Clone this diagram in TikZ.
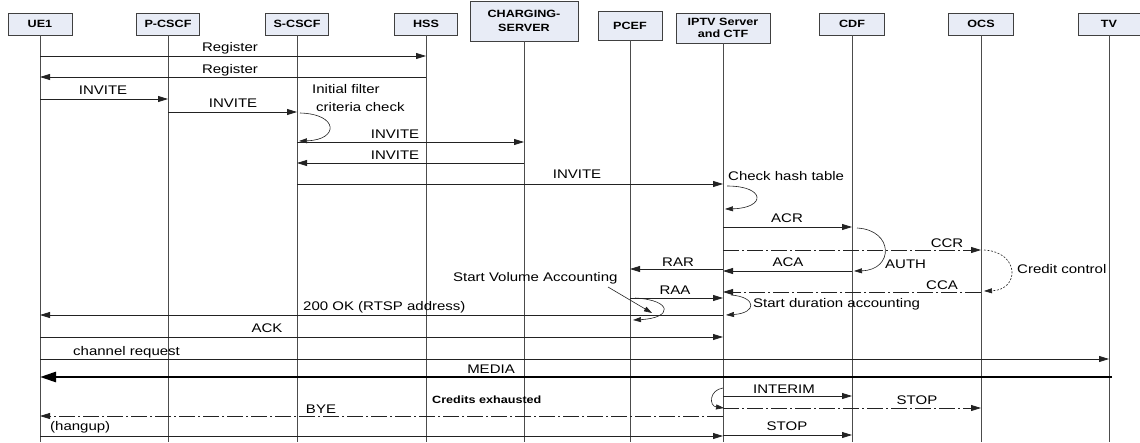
\documentclass[tikz,border=0pt]{standalone}
\usepackage{fontspec}
\setmainfont{Liberation Sans}[FakeStretch=1.2]
\usetikzlibrary{arrows.meta}
\definecolor{hdrfill}{HTML}{E8ECF6}
\definecolor{ln}{HTML}{222222}
\begin{document}
\begin{tikzpicture}[x=1pt,y=-1pt,
  hdr/.style={draw=black!75, line width=0.8pt, fill=hdrfill, font=\fontsize{10.5}{12}\selectfont\bfseries, align=center, inner sep=0pt, minimum height=22pt},
  life/.style={draw=black!70, line width=0.8pt},
  msg/.style={draw=ln, line width=0.8pt, -{Triangle[length=10pt,width=6pt]}},
  loopa/.style={draw=ln, line width=0.6pt, -{Triangle[length=8pt,width=5pt]}},
  dd/.style={dash pattern=on 16pt off 3pt on 2pt off 3pt},
  lbl/.style={font=\fontsize{12.5}{14}\selectfont, inner sep=0pt, anchor=base},
  lbll/.style={lbl, anchor=base west},
  blbl/.style={font=\fontsize{10.5}{12}\selectfont\bfseries, inner sep=0pt, anchor=base west}]
\useasboundingbox (0,0) rectangle (1140,442);
\fill[white] (0,0) rectangle (1140,442);
\coordinate (bot) at (0,442);
% headers
\node[hdr, minimum width=64pt] (ue1) at (40,24) {UE1};
\node[hdr, minimum width=63pt] (pcscf) at (168,24) {P-CSCF};
\node[hdr, minimum width=63pt] (scscf) at (297,24) {S-CSCF};
\node[hdr, minimum width=63pt] (hss) at (426,24) {HSS};
\node[hdr, minimum width=108pt, minimum height=40pt] (chg) at (524,21) {CHARGING-\\[2pt]SERVER};
\node[hdr, minimum width=64pt, minimum height=29pt] (pcef) at (630,25.5) {PCEF};
\node[hdr, minimum width=94pt, minimum height=30pt] (iptv) at (723,28) {IPTV Server\\and CTF};
\node[hdr, minimum width=65pt] (cdf) at (852,24) {CDF};
\node[hdr, minimum width=65pt] (ocs) at (981,24) {OCS};
\node[hdr, minimum width=62pt] (tv) at (1109,24) {TV};
% lifelines
\foreach \n in {ue1,pcscf,scscf,hss,chg,pcef,iptv,cdf,ocs,tv}
  \draw[life] (\n.south) -- (\n |- bot);
% messages
\draw[msg] (ue1 |- 0,56) -- (hss |- 0,56);
\node[lbl] (l1) at (230,51) {Register};
\draw[msg] (hss |- 0,77) -- (ue1 |- 0,77);
\node[lbl] (l2) at (230,73) {Register};
\draw[msg] (ue1 |- 0,99) -- (pcscf |- 0,99);
\node[lbl] (l3) at (103,94) {INVITE};
\draw[msg] (pcscf |- 0,112) -- (scscf |- 0,112);
\node[lbl] (l4) at (233,107) {INVITE};
\node[lbll] (ifc1) at (312,93) {Initial filter};
\node[lbll] (ifc2) at (316,111) {criteria check};
\draw[loopa] (300,113) .. controls (339,114) and (339,140) .. (299,141);
\draw[msg] (scscf |- 0,142) -- (chg |- 0,142);
\node[lbl] (l5) at (395,138.5) {INVITE};
\draw[msg] (chg |- 0,163) -- (scscf |- 0,163);
\node[lbl] (l6) at (395,159.5) {INVITE};
\draw[msg] (scscf |- 0,184) -- (iptv |- 0,184);
\node[lbl] (l7) at (577,178) {INVITE};
\node[lbll] (chk) at (728,180) {Check hash table};
\draw[loopa] (727,186) .. controls (766,186) and (766,208) .. (725,209);
\draw[msg] (iptv |- 0,227) -- (cdf |- 0,227);
\node[lbl] (l8) at (787,222.5) {ACR};
\draw[loopa] (857,228) .. controls (894,230) and (894,270) .. (854,271);
\node[lbll] (auth) at (885,268) {AUTH};
\draw[msg, dd] (iptv |- 0,250) -- (ocs |- 0,250);
\node[lbl] (l9) at (947,247.5) {CCR};
\draw[msg] (cdf |- 0,271) -- (iptv |- 0,271);
\node[lbl] (l10) at (788,266) {ACA};
\draw[msg] (iptv |- 0,269) -- (pcef |- 0,269);
\node[lbl] (l11) at (678,266) {RAR};
\draw[draw=ln, line width=0.6pt, dash pattern=on 2pt off 1.5pt, -{Triangle[length=8pt,width=5pt]}] (984,250) .. controls (1020,252) and (1020,290) .. (984,291);
\node[lbll] (cc) at (1017,273) {Credit control};
\draw[msg, dd] (ocs |- 0,292) -- (iptv |- 0,292);
\node[lbl] (l12) at (942,289.5) {CCA};
\node[lbll] (sva) at (453,281) {Start Volume Accounting};
\draw[draw=ln, line width=0.6pt, -{Triangle[length=8pt,width=5pt]}] (608,287) -- (652,313);
\draw[msg] (pcef |- 0,298) -- (iptv |- 0,298);
\node[lbl] (l13) at (675,294) {RAA};
\draw[loopa] (635,298) .. controls (673,300) and (673,318) .. (633,320);
\draw[loopa] (731,295) .. controls (757,297) and (757,313) .. (726,315);
\node[lbll] (sda) at (753,307) {Start duration accounting};
\draw[msg] (iptv |- 0,315) -- (ue1 |- 0,315);
\node[lbll] (l14) at (303,310) {200 OK (RTSP address)};
\draw[msg] (ue1 |- 0,337) -- (iptv |- 0,337);
\node[lbl] (l15) at (267,332) {ACK};
\draw[msg] (ue1 |- 0,359) -- (tv |- 0,359);
\node[lbll] (l16) at (73,355) {channel request};
\draw[draw=black, line width=2.6pt, -{Triangle[length=16pt,width=10pt]}] ([xshift=3pt]tv |- 0,377) -- (ue1 |- 0,377);
\node[lbl] (l17) at (491,373) {MEDIA};
\node[blbl] (ce) at (432,403) {Credits exhausted};
\draw[loopa] (723,388) .. controls (709,390) and (709,406) .. (724,408);
\draw[msg] (iptv |- 0,396) -- (cdf |- 0,396);
\node[lbl] (l18) at (784,393) {INTERIM};
\draw[msg, dd] (iptv |- 0,408) -- (ocs |- 0,408);
\node[lbl] (l19) at (917,404) {STOP};
\draw[msg, dd] (iptv |- 0,416) -- (ue1 |- 0,416);
\node[lbl] (l20) at (321,413) {BYE};
\node[lbll] (hang) at (50,430) {(hangup)};
\draw[msg] (ue1 |- 0,436) -- (iptv |- 0,436);
\draw[msg] (iptv |- 0,435) -- (cdf |- 0,435);
\node[lbl] (l21) at (787,430) {STOP};
\end{tikzpicture}
\end{document}
